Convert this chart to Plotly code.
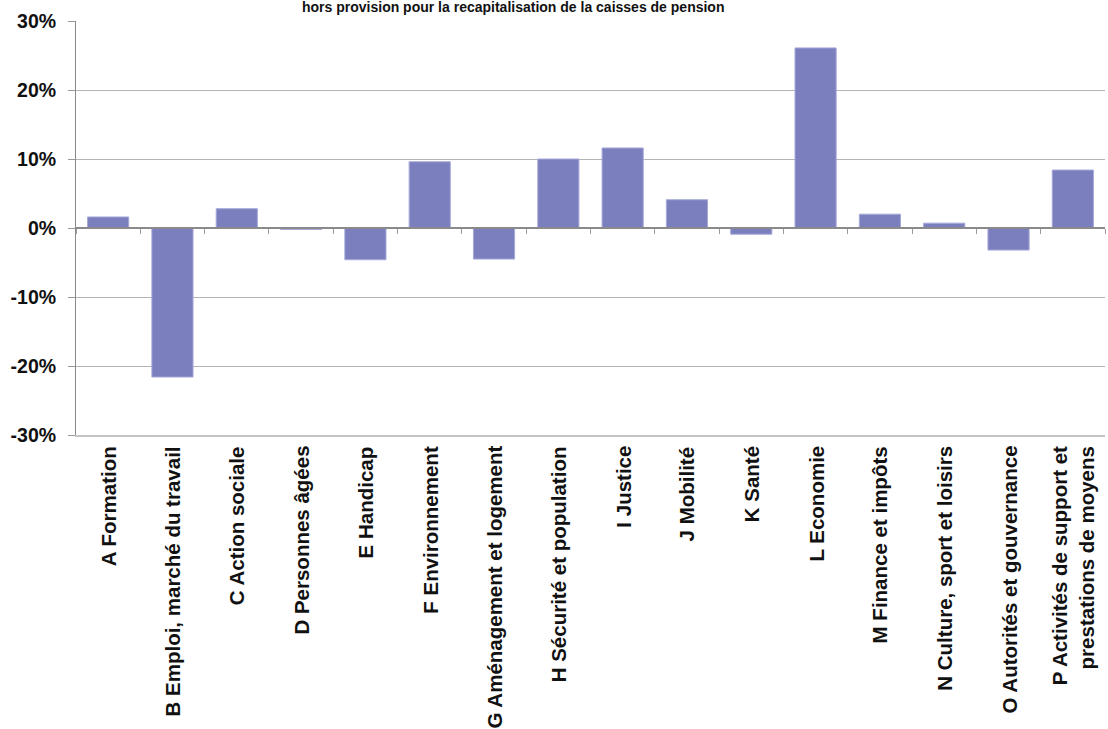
import plotly.graph_objects as go

# Variation by policy area (%)
categories = [
    "A Formation",
    "B Emploi, marché du travail",
    "C Action sociale",
    "D Personnes âgées",
    "E Handicap",
    "F Environnement",
    "G Aménagement et logement",
    "H Sécurité et population",
    "I Justice",
    "J Mobilité",
    "K Santé",
    "L Economie",
    "M Finance et impôts",
    "N Culture, sport et loisirs",
    "O Autorités et gouvernance",
    "P Activités de support et<br>prestations de moyens",
]
values = [1.6, -21.6, 2.8, -0.2, -4.6, 9.6, -4.5, 10.0, 11.6, 4.1, -0.9, 26.1, 2.0, 0.7, -3.2, 8.4]
y_ticks = [-30, -20, -10, 0, 10, 20, 30]
y_tick_text = ["-30%", "-20%", "-10%", "0%", "10%", "20%", "30%"]
title_text = "hors provision pour la recapitalisation de la caisses de pension"

font_family = "Liberation Sans, Arial, sans-serif"
bar_color = "#7b7fbe"
label_font = dict(size=20.5, family=font_family, color="#111111", weight="bold")

fig = go.Figure()
fig.add_trace(go.Bar(
    x=categories, y=values,
    marker=dict(color=bar_color, line=dict(color="#a6a9d9", width=1)),
    width=0.64,
    hoverinfo="x+y",
))
# invisible companion trace that carries the axis drawn along the zero line
fig.add_trace(go.Scatter(
    x=categories, y=[0] * len(categories), xaxis="x2",
    mode="markers", marker=dict(opacity=0), hoverinfo="skip", showlegend=False,
))

# rotated category labels below the plot
annotations = []
for cat in categories:
    annotations.append(dict(
        text=cat, x=cat, xref="x", y=0, yref="paper",
        textangle=-90, xanchor="center", yanchor="top", align="right",
        showarrow=False, borderpad=0, borderwidth=0, yshift=-11,
        font=label_font,
    ))
annotations.append(dict(
    text=title_text, xref="paper", yref="paper",
    x=(513 - 76) / 1029, y=1 + (21 - 7) / 414,
    xanchor="center", yanchor="middle", showarrow=False,
    font=dict(size=14, family=font_family, color="#111111", weight="bold"),
))

fig.update_layout(
    width=1108, height=729,
    margin=dict(l=76, r=3, t=21, b=294),
    paper_bgcolor="white", plot_bgcolor="white",
    showlegend=False,
    font=dict(family=font_family, color="#222222"),
    xaxis=dict(
        type="category", range=[-0.5, len(categories) - 0.5],
        showticklabels=False, ticks="", showgrid=False,
        showline=True, linecolor="#c4c4c4", linewidth=2,
        automargin=False,
    ),
    xaxis2=dict(
        type="category", overlaying="x", anchor="free", position=0.5,
        range=[-0.5, len(categories) - 0.5],
        showticklabels=False, showgrid=False,
        ticks="outside", tickson="boundaries", ticklen=5, tickcolor="#9a9a9a",
        showline=True, linecolor="#8a8a8a", linewidth=2,
        categoryorder="array", categoryarray=categories,
    ),
    yaxis=dict(
        range=[-30, 30], tickvals=y_ticks, ticktext=y_tick_text,
        showgrid=True, gridcolor="#b4b4b4", gridwidth=1,
        zeroline=False,
        showline=True, linecolor="#8a8a8a", linewidth=1,
        ticks="outside", ticklen=7, tickcolor="#9a9a9a",
        ticklabelstandoff=8,
        tickfont=dict(size=19.5, family=font_family, color="#111111", weight="bold"),
        automargin=False,
    ),
    annotations=annotations,
)

fig.write_html("out.html")
